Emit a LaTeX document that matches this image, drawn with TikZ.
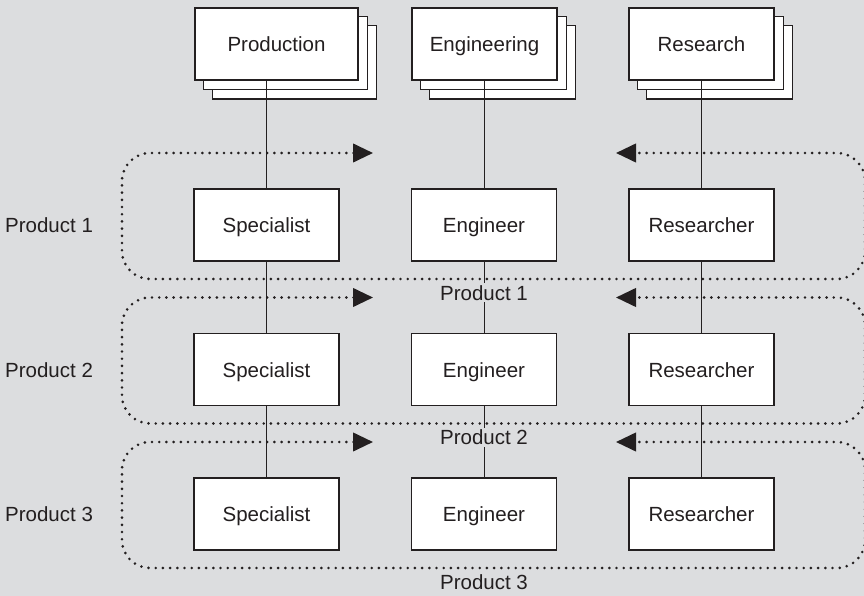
\documentclass[tikz,border=0pt]{standalone}
\usepackage{fontspec}
\setmainfont{Liberation Sans}
\usetikzlibrary{arrows.meta}

\definecolor{pagebg}{HTML}{DCDDDF}
\definecolor{ink}{HTML}{231F20}

\pgfdeclarelayer{paper}
\pgfdeclarelayer{sheets}
\pgfsetlayers{paper,sheets,main}

\tikzset{
  unitbox/.style={draw=ink, fill=white, line width=1.1pt, minimum width=145pt,
    minimum height=72pt, inner sep=0pt, text=ink, text height=15pt, text depth=0pt,
    font=\fontsize{20.5}{24}\selectfont},
  stackback/.style={draw=ink, fill=white, line width=1.1pt},
  link/.style={draw=ink, line width=0.9pt},
  teamloop/.style={draw=ink, line width=2.9pt, line cap=round,
    dash pattern=on 0pt off 7.2pt, rounded corners=28pt,
    {Triangle[length=20pt,width=18.5pt,line width=2.5pt]}-{Triangle[length=20pt,width=18.5pt,line width=2.5pt]}},
  prodlabel/.style={text=ink, font=\fontsize{20.5}{24}\selectfont, inner sep=0pt},
  looplabel/.style={prodlabel, fill=pagebg, inner sep=2pt, anchor=base}
}

\begin{document}
\begin{tikzpicture}[x=1pt, y=-1pt]
  \useasboundingbox (0,0) rectangle (864,596);
  \begin{pgfonlayer}{paper}
    \fill[pagebg] (0,0) rectangle (864,596);
  \end{pgfonlayer}

  % department headers
  \node[unitbox, minimum width=163pt] (prod) at (276.5,44) {Production};
  \node[unitbox] (eng) at (484.5,44) {Engineering};
  \node[unitbox] (res) at (701.5,44) {Research};

  % stacked sheets behind each header
  \begin{pgfonlayer}{sheets}
    \foreach \d in {prod,eng,res}{
      \draw[stackback] ([shift={(18,18.5)}]\d.south west) rectangle ([shift={(18,18.5)}]\d.north east);
      \draw[stackback] ([shift={(9,9)}]\d.south west) rectangle ([shift={(9,9)}]\d.north east);
    }
  \end{pgfonlayer}

  % product team rows
  \foreach \r/\y in {1/225,2/369.5,3/514}{
    \node[unitbox] (spec\r) at (266.5,\y) {Specialist};
    \node[unitbox] (engr\r) at (484,\y) {Engineer};
    \node[unitbox] (resr\r) at (701.5,\y) {Researcher};
    \node[prodlabel, anchor=base west] (left\r) at (5,\y+7.5) {Product \r};
    \coordinate (lt\r) at (373,\y-72);
    \coordinate (rt\r) at (616,\y-72);
    \coordinate (nw\r) at (122,\y-72);
    \coordinate (sw\r) at (122,\y+54);
    \coordinate (se\r) at (865,\y+54);
    \coordinate (ne\r) at (865,\y-72);
  }

  % reporting lines
  \begin{pgfonlayer}{sheets}
    \draw[link] (spec1.north |- prod.south) -- (spec1.north);
    \draw[link] (engr1.north |- eng.south) -- (engr1.north);
    \draw[link] (resr1.north |- res.south) -- (resr1.north);
    \foreach \a/\b in {1/2,2/3}{
      \draw[link] (spec\a.south) -- (spec\b.north);
      \draw[link] (engr\a.south) -- (engr\b.north);
      \draw[link] (resr\a.south) -- (resr\b.north);
    }
  \end{pgfonlayer}

  % product team loops
  \foreach \r in {1,2,3}{
    \draw[teamloop] (lt\r) -- (nw\r) -- (sw\r) -- (se\r) -- (ne\r) -- (rt\r);
  }
  \node[looplabel] (lab1) at (484,300) {Product 1};
  \node[looplabel] (lab2) at (484,444.5) {Product 2};
  \node[looplabel] (lab3) at (484,589) {Product 3};
\end{tikzpicture}
\end{document}
